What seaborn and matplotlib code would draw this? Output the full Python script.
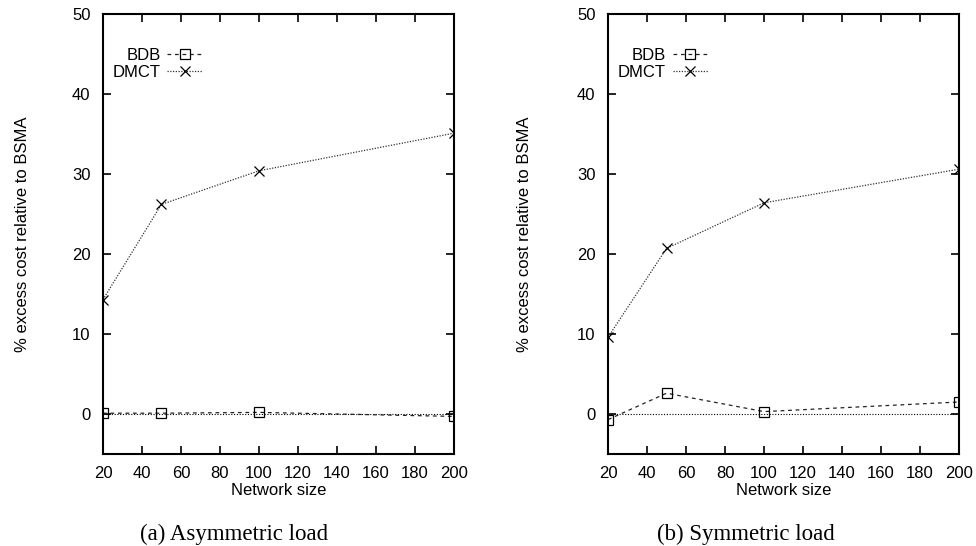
import pandas as pd
import seaborn as sns
import matplotlib.pyplot as plt

# values
sizes = [20, 50, 100, 200]
asym_bdb = [0.1, 0.1, 0.2, -0.3]
asym_dmct = [14.3, 26.2, 30.4, 35.1]
sym_bdb = [-0.7, 2.6, 0.3, 1.5]
sym_dmct = [9.6, 20.7, 26.4, 30.6]

panels = [
    ('(a) Asymmetric load', asym_bdb, asym_dmct),
    ('(b) Symmetric load', sym_bdb, sym_dmct),
]
xticks = list(range(20, 201, 20))
yticks = list(range(0, 51, 10))

sns.set_style('ticks')
plt.rcParams['font.family'] = ['Liberation Sans', 'DejaVu Sans']
plt.rcParams['font.size'] = 12
plt.rcParams['text.color'] = 'black'
plt.rcParams['axes.labelcolor'] = 'black'
plt.rcParams['xtick.color'] = 'black'
plt.rcParams['ytick.color'] = 'black'

fig = plt.figure(figsize=(9.76, 5.46), dpi=100)
ax_lefts = [0.1055, 0.623]
ylabel_pads = [30, 32]
caption_x = [0.240, 0.764]

for i, (caption, bdb, dmct) in enumerate(panels):
    ax = fig.add_axes([ax_lefts[i], 0.1685, 0.3596, 0.8059])
    df = pd.DataFrame({'size': sizes, 'BDB': bdb, 'DMCT': dmct})

    ax.axhline(0, color='black', lw=0.8, linestyle=(0, (1, 1.5)), zorder=1)
    sns.lineplot(data=df, x='size', y='BDB', ax=ax, label='BDB',
                 color='#222222', lw=0.9, linestyle=(0, (3, 3)),
                 marker='s', markersize=7, markerfacecolor='none',
                 markeredgecolor='black', markeredgewidth=0.9)
    sns.lineplot(data=df, x='size', y='DMCT', ax=ax, label='DMCT',
                 color='#333333', lw=0.9, linestyle=(0, (1, 1.2)),
                 marker='x', markersize=6.5, markeredgecolor='black',
                 markeredgewidth=0.9)

    ax.set_xlim(20, 200)
    ax.set_ylim(-5, 50)
    ax.set_xticks(xticks)
    ax.set_yticks(yticks)
    ax.tick_params(direction='in', length=6, width=1.2, top=True, right=True,
                   labelsize=12, pad=9, colors='black')
    for s in ax.spines.values():
        s.set_linewidth(1.5)
        s.set_color('black')
    ax.set_xlabel('Network size', fontsize=12, labelpad=1)
    ax.set_ylabel('% excess cost relative to BSMA', fontsize=12,
                  labelpad=ylabel_pads[i])

    ax.legend(loc='upper left', bbox_to_anchor=(0.028, 0.923), frameon=False,
              markerfirst=False, borderpad=0, borderaxespad=0,
              handlelength=2.1, handletextpad=0.4, labelspacing=0.1,
              fontsize=12)

    fig.text(caption_x[i], 0.011, caption, ha='center', va='baseline',
             fontsize=16.5, family=['Liberation Serif', 'DejaVu Serif'])

plt.savefig('out.png', dpi=100)
